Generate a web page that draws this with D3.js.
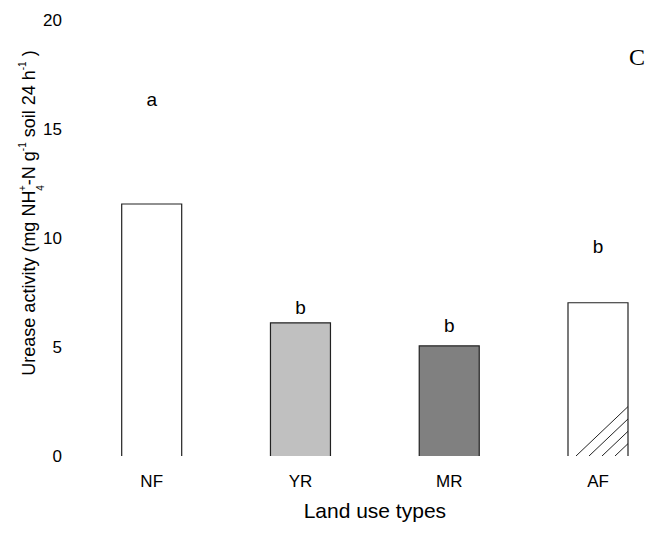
<!DOCTYPE html>
<html><head><meta charset="utf-8">
<script src="https://cdn.jsdelivr.net/npm/d3@7"></script>
<style>body{margin:0;background:#fff}svg{display:block}</style>
</head><body>
<svg id="c" width="649" height="534" font-family="Arial, 'Liberation Sans', sans-serif"></svg>
<script>
const categories = ["NF", "YR", "MR", "AF"];
const values = [11.56, 6.11, 5.05, 7.03];
const letters = ["a", "b", "b", "b"];
const letterValues = [16.06, 6.51, 5.7, 9.3];
const fills = ["#ffffff", "#c0c0c0", "#808080", "#ffffff"];
const yTicks = [0, 5, 10, 15, 20];

const svg = d3.select("#c");
const y = d3.scaleLinear().domain([0, 20]).range([456, 20]);
const x = d3.scalePoint().domain(categories).range([151.7, 598]);
const bw = 60;

// y tick labels
svg.append("g").selectAll("text").data(yTicks).join("text")
  .attr("x", 62).attr("y", d => y(d)).attr("dy", "0.35em")
  .attr("text-anchor", "end").attr("font-size", 17).text(d => d);

// x tick labels
svg.append("g").selectAll("text").data(categories).join("text")
  .attr("x", d => x(d)).attr("y", 487).attr("text-anchor", "middle")
  .attr("font-size", 17).text(d => d);

// bars
const defs = svg.append("defs");
defs.append("clipPath").attr("id", "afclip").append("rect")
  .attr("x", x("AF") - bw/2).attr("y", y(values[3])).attr("width", bw).attr("height", y(0) - y(values[3]));

const g = svg.append("g");
categories.forEach((c, i) => {
  const x0 = x(c) - bw/2, x1 = x(c) + bw/2, yt = y(values[i]), yb = y(0);
  g.append("rect").attr("x", x0).attr("y", yt).attr("width", bw).attr("height", yb - yt).attr("fill", fills[i]);
  if (c === "AF") {
    const hg = g.append("g").attr("clip-path", "url(#afclip)");
    [8, 21, 34, 47].forEach(off => {
      hg.append("line").attr("x1", x0 + off).attr("y1", yb)
        .attr("x2", x0 + off + 60).attr("y2", yb - 57)
        .attr("stroke", "#222").attr("stroke-width", 1);
    });
  }
  g.append("path").attr("d", `M${x0},${yb}V${yt}H${x1}V${yb}`)
    .attr("fill", "none").attr("stroke", "#222").attr("stroke-width", 1.2);
});

// significance letters
svg.append("g").selectAll("text").data(categories).join("text")
  .attr("x", d => x(d)).attr("y", (d, i) => y(letterValues[i])).attr("text-anchor", "middle")
  .attr("font-size", 19).text((d, i) => letters[i]);

// axis titles
svg.append("text").attr("x", (x("NF") + x("AF")) / 2).attr("y", 518).attr("text-anchor", "middle")
  .attr("font-size", 21).text("Land use types");

const yl = svg.append("text").attr("transform", "translate(35,213) rotate(-90)")
  .attr("text-anchor", "middle").attr("font-size", 18);
yl.append("tspan").text("Urease activity (mg NH");
yl.append("tspan").attr("font-size", 10).attr("dy", 9).text("4");
yl.append("tspan").attr("font-size", 10).attr("dx", -6).attr("dy", -18).text("+");
yl.append("tspan").attr("dy", 9).text("-N g");
yl.append("tspan").attr("font-size", 10).attr("dy", -9).text("-1");
yl.append("tspan").attr("dy", 9).text(" soil 24 h");
yl.append("tspan").attr("font-size", 10).attr("dy", -9).text("-1");
yl.append("tspan").attr("dy", 9).text(" )");

svg.append("text").attr("x", 645).attr("y", 65).attr("text-anchor", "end")
  .attr("font-family", "'Liberation Serif', 'Times New Roman', serif").attr("font-size", 24).text("C");
</script>
</body></html>
